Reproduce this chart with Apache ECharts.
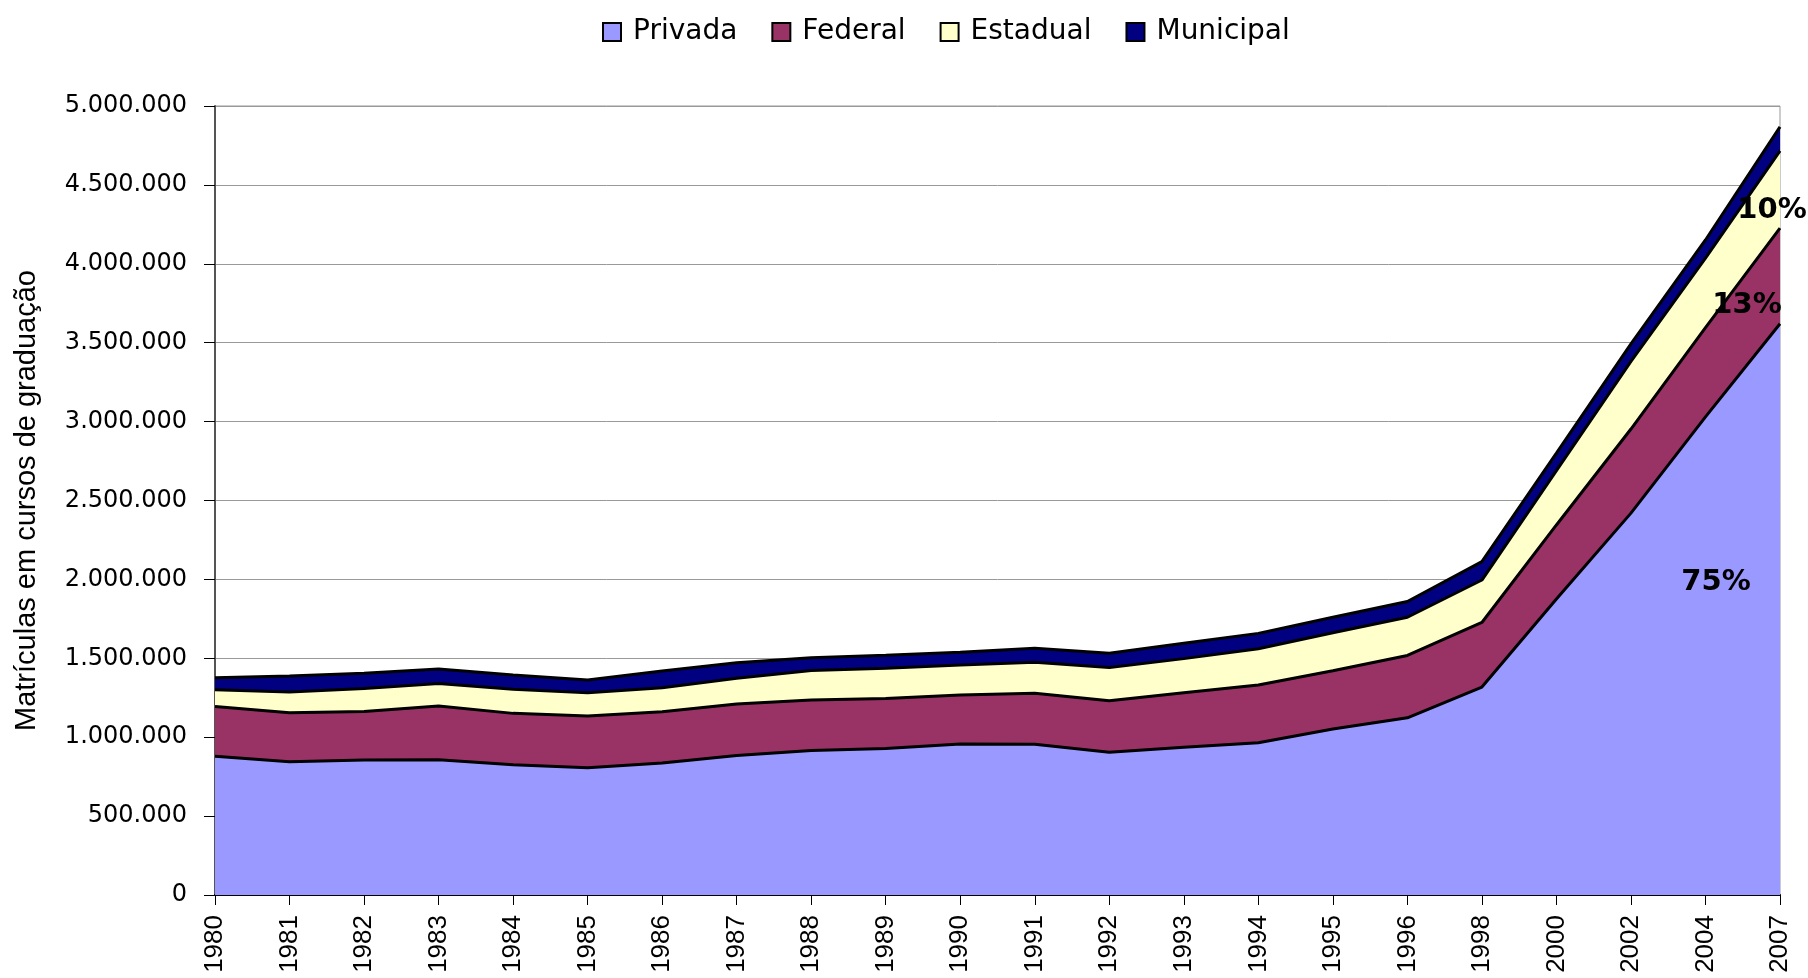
<!DOCTYPE html>
<html>
<head>
<meta charset="utf-8">
<title>Matrículas em cursos de graduação</title>
<script src="https://cdn.jsdelivr.net/npm/echarts@6/dist/echarts.min.js"></script>
<style>
  html, body { margin: 0; padding: 0; background: #fff; }
  #chart { width: 1808px; height: 978px; }
</style>
</head>
<body>
<div id="chart"></div>
<script>
// anos (eixo de categorias, não é linear)
const anos = ['1980', '1981', '1982', '1983', '1984', '1985', '1986', '1987', '1988', '1989', '1990',
  '1991', '1992', '1993', '1994', '1995', '1996', '1998', '2000', '2002', '2004', '2007']

// matrículas por categoria administrativa
const privada = [880000, 845000, 855000, 857000, 825000, 807000, 836000, 884000, 915000, 929000, 957000,
  955000, 904000, 936000, 965000, 1052000, 1123000, 1318000, 1876000, 2420000, 3030000, 3620000]
const federal = [315000, 310000, 308000, 341000, 326000, 327000, 326000, 326000, 321000, 317000, 310000,
  323000, 327000, 346000, 366000, 369000, 395000, 409000, 469000, 533000, 566000, 606000]
const estadual = [106000, 131000, 145000, 143000, 153000, 148000, 152000, 163000, 186000, 191000, 191000,
  197000, 210000, 216000, 230000, 241000, 242000, 269000, 344000, 429000, 440000, 490000]
const municipal = [76000, 102000, 98000, 91000, 90000, 80000, 105000, 99000, 82000, 82000, 80000,
  88000, 91000, 97000, 97000, 98000, 100000, 117000, 111000, 110000, 115000, 152000]

const yTicks = [0, 500000, 1000000, 1500000, 2000000, 2500000, 3000000, 3500000, 4000000, 4500000, 5000000]

// rótulos de participação em 2007
const pctLabels = ['75%', '13%', '10%']
const pctValues = [1978000, 3738000, 4338000]
const pctOffsetX = [-64, -33, -8]

const nomes = ['Privada', 'Federal', 'Estadual', 'Municipal']
const cores = ['#9999FF', '#993366', '#FFFFCC', '#000080']
const dados = [privada, federal, estadual, municipal]

function fmt(v) {
  return String(v).replace(/\B(?=(\d{3})+(?!\d))/g, '.')
}

function pctMark(i) {
  return {
    symbol: 'circle',
    symbolSize: 1,
    silent: true,
    itemStyle: { color: 'rgba(0,0,0,0)' },
    label: {
      show: true,
      position: 'inside',
      formatter: pctLabels[i],
      fontFamily: 'DejaVu Sans',
      fontWeight: 'bold',
      fontSize: 29,
      color: '#000',
      offset: [pctOffsetX[i], 0]
    },
    data: [{ coord: ['2007', pctValues[i]] }]
  }
}

var myChart = echarts.init(document.getElementById('chart'))

let series = nomes.map((n, i) => {
  let s = {
    name: n,
    type: 'line',
    stack: 'total',
    data: dados[i],
    symbol: 'none',
    showSymbol: false,
    itemStyle: { color: cores[i] },
    lineStyle: { color: '#000', width: 3 },
    areaStyle: { color: cores[i], opacity: 1 },
    emphasis: { disabled: true }
  }
  if (i < 3) s.markPoint = pctMark(i)
  return s
})

let option = {
  animation: false,
  textStyle: { fontFamily: 'DejaVu Sans' },
  legend: {
    data: nomes,
    left: 597,
    top: 13,
    icon: 'rect',
    itemWidth: 18,
    itemHeight: 18,
    itemGap: 34,
    itemStyle: { borderColor: '#000', borderWidth: 2 },
    textStyle: {
      fontFamily: 'DejaVu Sans',
      fontSize: 28,
      color: '#000',
      padding: [0, 0, 0, 7]
    }
  },
  grid: {
    left: 215,
    right: 28,
    top: 106,
    bottom: 83,
    show: true,
    borderColor: '#999',
    borderWidth: 1
  },
  xAxis: {
    type: 'category',
    data: anos,
    boundaryGap: false,
    axisLine: { lineStyle: { color: '#000', width: 2 } },
    axisTick: { show: true, length: 10, interval: 0, lineStyle: { color: '#000' } },
    axisLabel: {
      interval: 0,
      rotate: 90,
      margin: 20,
      fontFamily: 'Liberation Sans',
      fontSize: 26,
      color: '#000'
    }
  },
  yAxis: {
    type: 'value',
    min: 0,
    max: yTicks[yTicks.length - 1],
    interval: yTicks[1] - yTicks[0],
    name: 'Matrículas em cursos de graduação',
    nameLocation: 'middle',
    nameGap: 174,
    nameTextStyle: { fontFamily: 'Liberation Sans', fontSize: 29, color: '#000' },
    axisLine: { show: true, lineStyle: { color: '#555', width: 2 } },
    axisTick: { show: true, length: 11, lineStyle: { color: '#000' } },
    splitLine: { lineStyle: { color: '#999', width: 1 } },
    axisLabel: {
      margin: 28,
      fontFamily: 'DejaVu Sans',
      fontSize: 24,
      color: '#000',
      formatter: fmt
    }
  },
  series: series
}

myChart.setOption(option)
</script>
</body>
</html>
